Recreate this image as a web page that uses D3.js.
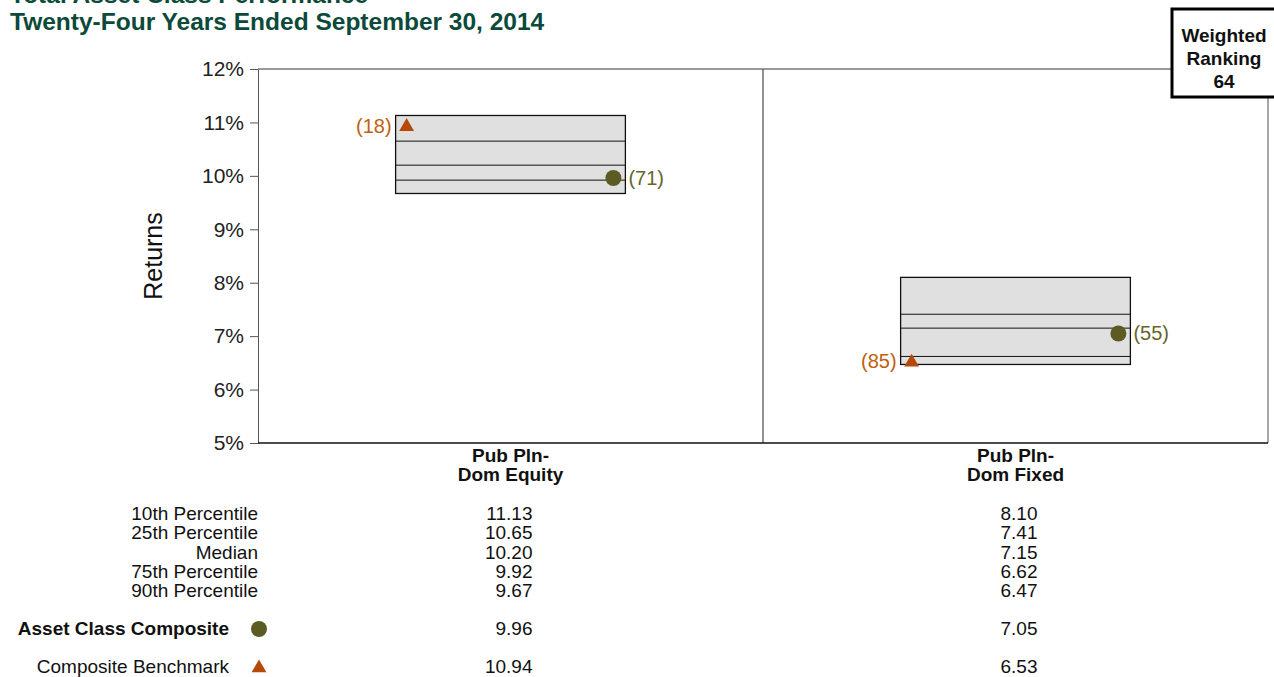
<!DOCTYPE html>
<meta charset="utf-8">
<head>
  <script src="https://d3js.org/d3.v7.min.js"></script>
  <style>
    body { margin: 0; background: #fff; }
    svg { display: block; font-family: "Liberation Sans", Arial, sans-serif; }
  </style>
</head>
<body>
<div id="my_dataviz"></div>
<script>

// data
var categories = [["Pub Pln-", "Dom Equity"], ["Pub Pln-", "Dom Fixed"]];
var p10 = [11.13, 8.10];
var p25 = [10.65, 7.41];
var median = [10.20, 7.15];
var p75 = [9.92, 6.62];
var p90 = [9.67, 6.47];
var composite = [9.96, 7.05];
var compositeRank = [71, 55];
var benchmark = [10.94, 6.53];
var benchmarkRank = [18, 85];
var rowLabels = ["10th Percentile", "25th Percentile", "Median", "75th Percentile", "90th Percentile"];
var yTicks = [5, 6, 7, 8, 9, 10, 11, 12];
var weightedRanking = 64;

var width = 1274, height = 677;
var margin = { top: 69, left: 258, right: 6 };
var plotBottom = 443;
var fs = "19px";

var svg = d3.select("#my_dataviz")
  .append("svg")
  .attr("width", width)
  .attr("height", height);

var green = "#0b4a3a", orange = "#b5490a", olive = "#5b5b23";
var orangeText = "#c0600f", oliveText = "#66662c";

// title
svg.append("text").attr("x", 10).attr("y", 3)
  .style("font-size", "24.5px").style("font-weight", "bold").attr("fill", green)
  .text("Total Asset Class Performance");
svg.append("text").attr("x", 10).attr("y", 30)
  .style("font-size", "24.5px").style("font-weight", "bold").attr("fill", green)
  .text("Twenty-Four Years Ended September 30, 2014");

// scales
var x = d3.scaleBand()
  .domain(d3.range(categories.length))
  .range([margin.left, width - margin.right])
  .paddingInner(0).paddingOuter(0);

var y = d3.scaleLinear()
  .domain([5, 12])
  .range([plotBottom, margin.top]);

// frame
svg.append("line").attr("x1", x.range()[0]).attr("x2", x.range()[1])
  .attr("y1", y(12)).attr("y2", y(12)).attr("stroke", "#777").attr("stroke-width", 1.3);
svg.append("line").attr("x1", x.range()[1]).attr("x2", x.range()[1])
  .attr("y1", y(12)).attr("y2", y(5)).attr("stroke", "#777").attr("stroke-width", 1.3);
svg.append("line").attr("x1", x(1)).attr("x2", x(1))
  .attr("y1", y(12)).attr("y2", y(5)).attr("stroke", "#555").attr("stroke-width", 1.3);

// y axis
var yAxis = svg.append("g")
  .attr("transform", "translate(" + margin.left + ",0)")
  .call(d3.axisLeft(y).tickValues(yTicks).tickSize(8).tickSizeOuter(0)
    .tickFormat(function (d) { return d + "%"; }));
yAxis.select(".domain").attr("stroke", "#555");
yAxis.selectAll(".tick line").attr("stroke", "#555");
yAxis.selectAll("text").style("font-size", "21px").attr("fill", "#222").attr("x", -14);

svg.append("line").attr("x1", margin.left).attr("x2", x.range()[1])
  .attr("y1", y(5)).attr("y2", y(5)).attr("stroke", "#111").attr("stroke-width", 1.5);

svg.append("text")
  .attr("transform", "translate(162," + ((y(5) + y(12)) / 2) + ")rotate(-90)")
  .attr("text-anchor", "middle")
  .style("font-size", "25px").attr("fill", "#111")
  .text("Returns");

// boxes
var boxW = x.bandwidth() * 0.455;
categories.forEach(function (c, i) {
  var cx = x(i) + x.bandwidth() / 2;
  var x0 = cx - boxW / 2, x1 = cx + boxW / 2;
  svg.append("rect")
    .attr("x", x0).attr("y", y(p10[i]))
    .attr("width", boxW).attr("height", y(p90[i]) - y(p10[i]))
    .attr("fill", "#e0e0e0").attr("stroke", "#111").attr("stroke-width", 1.3);
  [p25[i], median[i], p75[i]].forEach(function (v) {
    svg.append("line").attr("x1", x0).attr("x2", x1)
      .attr("y1", y(v)).attr("y2", y(v)).attr("stroke", "#111").attr("stroke-width", 1);
  });

  // benchmark triangle
  var tx = x0 + 11, ty = y(benchmark[i]);
  svg.append("path")
    .attr("d", d3.symbol().type(d3.symbolTriangle).size(95)())
    .attr("transform", "translate(" + tx + "," + (ty + 1) + ")")
    .attr("fill", orange);
  svg.append("text").attr("x", tx - 15).attr("y", ty + 7)
    .attr("text-anchor", "end").style("font-size", "20px").attr("fill", orangeText)
    .text("(" + benchmarkRank[i] + ")");

  // composite dot
  var dx = x1 - 12, dy = y(composite[i]);
  svg.append("circle").attr("cx", dx).attr("cy", dy).attr("r", 8).attr("fill", olive);
  svg.append("text").attr("x", dx + 15).attr("y", dy + 7)
    .style("font-size", "20px").attr("fill", oliveText)
    .text("(" + compositeRank[i] + ")");

  // category label
  var lab = svg.append("text").attr("text-anchor", "middle")
    .style("font-size", fs).style("font-weight", "bold").attr("fill", "#111");
  lab.append("tspan").attr("x", cx).attr("y", 462).text(c[0]);
  lab.append("tspan").attr("x", cx).attr("y", 481).text(c[1]);

  // table values
  var colRight = cx + 22;
  [p10[i], p25[i], median[i], p75[i], p90[i]].forEach(function (v, r) {
    svg.append("text").attr("x", colRight).attr("y", 520 + r * 19.3)
      .attr("text-anchor", "end").style("font-size", fs).attr("fill", "#111")
      .text(v.toFixed(2));
  });
  svg.append("text").attr("x", colRight).attr("y", 635)
    .attr("text-anchor", "end").style("font-size", fs).attr("fill", "#111")
    .text(composite[i].toFixed(2));
  svg.append("text").attr("x", colRight).attr("y", 673)
    .attr("text-anchor", "end").style("font-size", fs).attr("fill", "#111")
    .text(benchmark[i].toFixed(2));
});

// row labels
rowLabels.forEach(function (t, r) {
  svg.append("text").attr("x", margin.left).attr("y", 520 + r * 19.3)
    .attr("text-anchor", "end").style("font-size", fs).attr("fill", "#111")
    .text(t);
});
svg.append("text").attr("x", 229).attr("y", 635)
  .attr("text-anchor", "end").style("font-size", fs).style("font-weight", "bold").attr("fill", "#111")
  .text("Asset Class Composite");
svg.append("circle").attr("cx", 259).attr("cy", 629).attr("r", 8).attr("fill", olive);
svg.append("text").attr("x", 229).attr("y", 673)
  .attr("text-anchor", "end").style("font-size", fs).attr("fill", "#111")
  .text("Composite Benchmark");
svg.append("path")
  .attr("d", d3.symbol().type(d3.symbolTriangle).size(95)())
  .attr("transform", "translate(259,668)")
  .attr("fill", orange);

// weighted ranking box
svg.append("rect").attr("x", 1172).attr("y", 9).attr("width", 120).attr("height", 88)
  .attr("fill", "#fff").attr("stroke", "#000").attr("stroke-width", 3);
var wr = svg.append("text").attr("text-anchor", "middle")
  .style("font-size", fs).style("font-weight", "bold").attr("fill", "#111");
wr.append("tspan").attr("x", 1224).attr("y", 42).text("Weighted");
wr.append("tspan").attr("x", 1224).attr("y", 65).text("Ranking");
wr.append("tspan").attr("x", 1224).attr("y", 88).text(weightedRanking);

</script>
</body>
